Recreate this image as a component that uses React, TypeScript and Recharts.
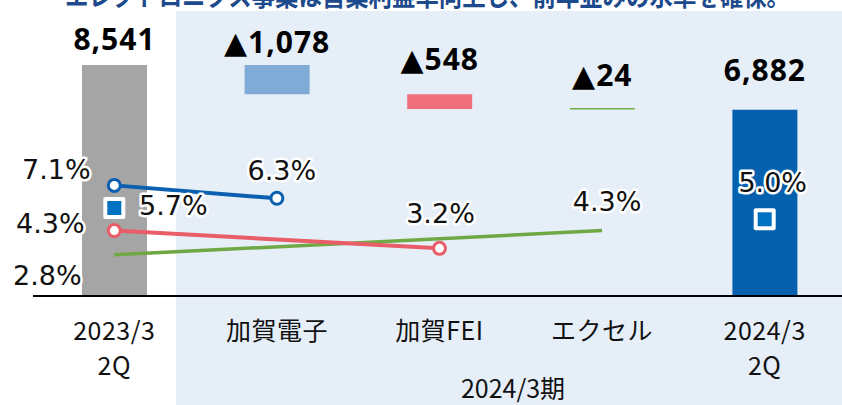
import React from "react";
import { ComposedChart, Bar, Line, XAxis, YAxis, LabelList, Cell } from "recharts";

const categories = ["2023/3\n2Q", "加賀電子", "加賀FEI", "エクセル", "2024/3\n2Q"];
// first and last are totals, the middle ones are changes (▲ = decrease)
const amounts = [8541, -1078, -548, -24, 6882];
const barColors = ["#a5a5a5", "#7fabd6", "#ee6f7a", "#70ad47", "#0561ad"];

// operating margin, %
const kagaDenshiMargin = [7.1, 6.3, null, null, null];
const kagaFeiMargin = [4.3, null, 3.2, null, null];
const excelMargin = [2.8, null, null, 4.3, null];
const totalMargin = [5.7, null, null, null, 5.0];

const title = "エレクトロニクス事業は営業利益率向上し、前年並みの水準を確保。";
const periodLabel = "2024/3期";

let level = 0;
const data = categories.map((name, i) => {
  const a = amounts[i];
  let base = 0;
  let bar = a;
  if (i > 0 && i < categories.length - 1) {
    base = level + a;
    bar = -a;
    level += a;
  } else {
    level = a;
  }
  return {
    name,
    base,
    bar,
    kagaDenshi: kagaDenshiMargin[i],
    kagaFei: kagaFeiMargin[i],
    excel: excelMargin[i],
    total: totalMargin[i],
  };
});

const amountLabelGap = [15, 12, 24, 22, 29];
const pctFont = "'DejaVu Sans', Verdana, sans-serif";

function fmtAmount(v: number) {
  const s = Math.abs(v).toLocaleString("en-US");
  return v < 0 ? "▲" + s : s;
}

function AmountLabel(props: any) {
  const { x, y, width, index } = props;
  return (
    <text
      x={x + width / 2}
      y={y - amountLabelGap[index]}
      textAnchor="middle"
      fontSize={30}
      fontWeight="bold"
      fontFamily="'Noto Sans', 'DejaVu Sans', sans-serif"
      letterSpacing={1}
      fill="#000"
    >
      {fmtAmount(amounts[index])}
    </text>
  );
}

function pctLabel(offsets: [number, number][]) {
  return (props: any) => {
    const { x, y, value, index } = props;
    if (value == null || y == null) return null;
    const [dx, dy] = offsets[index];
    return (
      <text
        x={x + dx}
        y={y + dy}
        textAnchor="middle"
        dominantBaseline="central"
        fontSize={27}
        fontFamily={pctFont}
        fill="#111"
        stroke="#fff"
        strokeWidth={5}
        strokeLinejoin="round"
        paintOrder="stroke"
      >
        {value.toFixed(1)}%
      </text>
    );
  };
}

function ringDot(color: string) {
  return (props: any) => {
    const { cx, cy, index } = props;
    if (cy == null) return <g key={index} />;
    return <circle key={index} cx={cx} cy={cy} r={6} fill="#fff" stroke={color} strokeWidth={3} />;
  };
}

function SquareDot(props: any) {
  const { cx, cy, index } = props;
  if (cy == null) return <g key={index} />;
  return (
    <g key={index}>
      <rect x={cx - 11} y={cy - 11} width={22} height={22} rx={2} fill="#fff" />
      <rect x={cx - 7} y={cy - 7} width={14} height={14} fill="#0070c0" />
    </g>
  );
}

function CategoryTick(props: any) {
  const { x, y, payload } = props;
  const lines = String(payload.value).split("\n");
  return (
    <g>
      {lines.map((t, i) => (
        <text
          key={i}
          x={x}
          y={y + 44 + i * 35}
          textAnchor="middle"
          fontSize={25}
          fontFamily="'Noto Sans CJK JP', sans-serif"
          letterSpacing={0.5}
          fill="#111"
        >
          {t}
        </text>
      ))}
    </g>
  );
}

export default function App() {
  return (
    <div style={{ position: "absolute", left: 0, top: 0, width: 842, height: 405, overflow: "hidden", background: "#fff" }}>
      <div style={{ position: "absolute", left: 176, top: 11, width: 666, height: 394, background: "#e6eef8" }} />
      <svg style={{ position: "absolute", left: 0, top: 0 }} width={842} height={20}>
        <text
          x={65}
          y={6}
          textLength={725}
          lengthAdjust="spacingAndGlyphs"
          fontSize={26}
          fontWeight="bold"
          fontFamily="'Noto Sans CJK JP', sans-serif"
          fill="#1d4a8c"
        >
          {title}
        </text>
      </svg>
      <div
        style={{
          position: "absolute",
          left: 413,
          top: 372,
          width: 200,
          textAlign: "center",
          fontSize: 25,
          fontFamily: "'Noto Sans CJK JP', sans-serif",
          color: "#111",
          lineHeight: "30px",
        }}
      >
        {periodLabel}
      </div>
      <div style={{ position: "absolute", left: 0, top: 0 }}>
        <ComposedChart width={850} height={405} data={data} margin={{ top: 25.5, right: 4, left: 33, bottom: 9 }}>
          <XAxis
            dataKey="name"
            interval={0}
            height={100}
            tickLine={false}
            tickSize={0}
            tickMargin={0}
            axisLine={{ stroke: "#000", strokeWidth: 2 }}
            tick={<CategoryTick />}
          />
          <YAxis yAxisId="amt" hide domain={[0, 10000]} />
          <YAxis yAxisId="pct" orientation="right" hide domain={[0.25, 17]} />
          <Bar yAxisId="amt" dataKey="base" stackId="w" fill="transparent" barSize={65} isAnimationActive={false} />
          <Bar yAxisId="amt" dataKey="bar" stackId="w" barSize={65} minPointSize={1.5} isAnimationActive={false}>
            {data.map((d, i) => (
              <Cell key={`c-${i}`} fill={barColors[i]} />
            ))}
            <LabelList dataKey="bar" content={<AmountLabel />} />
          </Bar>
          <Line
            yAxisId="pct"
            dataKey="excel"
            connectNulls
            stroke="#70a844"
            strokeWidth={3.5}
            dot={false}
            activeDot={false}
            isAnimationActive={false}
          >
            <LabelList dataKey="excel" content={pctLabel([[-67, 21], [0, 0], [0, 0], [5, -29], [0, 0]])} />
          </Line>
          <Line
            yAxisId="pct"
            dataKey="kagaFei"
            connectNulls
            stroke="#e85d68"
            strokeWidth={4}
            dot={ringDot("#e85d68")}
            activeDot={false}
            isAnimationActive={false}
          >
            <LabelList dataKey="kagaFei" content={pctLabel([[-64, -7], [0, 0], [1, -35], [0, 0], [0, 0]])} />
          </Line>
          <Line
            yAxisId="pct"
            dataKey="kagaDenshi"
            connectNulls
            stroke="#0a5fb0"
            strokeWidth={4}
            dot={ringDot("#0a5fb0")}
            activeDot={false}
            isAnimationActive={false}
          >
            <LabelList dataKey="kagaDenshi" content={pctLabel([[-58, -16], [5, -28], [0, 0], [0, 0], [0, 0]])} />
          </Line>
          <Line
            yAxisId="pct"
            dataKey="total"
            stroke="none"
            dot={SquareDot}
            activeDot={false}
            isAnimationActive={false}
          >
            <LabelList dataKey="total" content={pctLabel([[59, -2], [0, 0], [0, 0], [0, 0], [8, -37]])} />
          </Line>
        </ComposedChart>
      </div>
    </div>
  );
}
